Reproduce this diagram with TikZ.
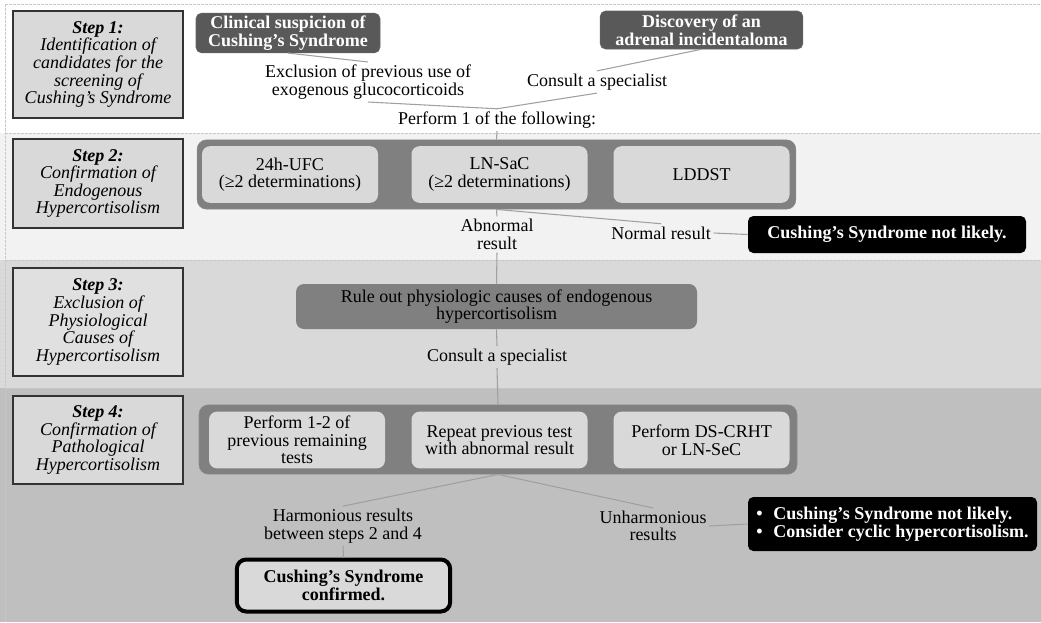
\documentclass[tikz,border=0pt]{standalone}
\usepackage{fontspec}
\setmainfont{Liberation Serif}

\definecolor{bandtwo}{HTML}{F2F2F2}
\definecolor{bandthree}{HTML}{D9D9D9}
\definecolor{bandfour}{HTML}{BFBFBF}
\definecolor{stepfill}{HTML}{D9D9D9}
\definecolor{darkfill}{HTML}{595959}
\definecolor{panelfill}{HTML}{808080}
\definecolor{testfill}{HTML}{D9D9D9}
\definecolor{linkgray}{HTML}{A0A0A0}
\definecolor{dashgray}{HTML}{C8C8C8}

\newcommand{\fsz}{\fontsize{13.5}{13.2}\selectfont}

\tikzset{
  txt/.style={font=\fsz, align=center, inner sep=2pt},
  stepbox/.style={txt, font=\fsz\itshape, draw=black!80,
    line width=1.1pt, fill=#1, minimum width=127.5pt, inner sep=0pt},
  stepbox/.default=stepfill,
  darkbox/.style={txt, font=\fsz\bfseries, text=white,
    fill=darkfill, draw=black!60, rounded corners=4pt, minimum height=28.5pt},
  panel/.style={fill=panelfill, draw=black!45, rounded corners=7pt,
    minimum width=#1, minimum height=52pt},
  testbox/.style={txt, fill=testfill, rounded corners=6pt, minimum width=132pt,
    minimum height=42.5pt},
  endbox/.style={txt, font=\fsz\bfseries, text=white,
    fill=black, rounded corners=4pt},
  link/.style={draw=linkgray, line width=0.8pt},
  bandline/.style={draw=dashgray, line width=0.6pt, dash pattern=on 2pt off 1pt},
}

\begin{document}
\begin{tikzpicture}[x=0.75pt, y=-0.75pt]
  \useasboundingbox (0,0) rectangle (1041,622);

  % bands of the four steps
  \fill[white] (0,0) rectangle (1041,133);
  \fill[bandtwo] (0,133) rectangle (1041,260);
  \fill[bandthree] (0,260) rectangle (1041,388);
  \fill[bandfour] (0,388) rectangle (1041,622);
  \draw[bandline] (5,4) -- (1041,4);
  \draw[bandline] (5,4) -- (5,622);
  \draw[bandline] (5,133) -- (1041,133);
  \draw[bandline] (5,260) -- (1041,260);
  \draw[bandline] (5,388) -- (1041,388);

  % step boxes on the left
  \node[stepbox, minimum height=80pt] (step1) at (98,64.5)
    {{\bfseries Step 1:}\\Identification of\\candidates for the\\screening of\\Cushing's Syndrome};
  \node[stepbox, minimum height=67pt] (step2) at (98,183.5)
    {{\bfseries Step 2:}\\Confirmation of\\Endogenous\\Hypercortisolism};
  \node[stepbox=white!88!black, minimum height=81pt] (step3) at (98,322)
    {{\bfseries Step 3:}\\Exclusion of\\Physiological\\Causes of\\Hypercortisolism};
  \node[stepbox, minimum height=66pt] (step4) at (98,440)
    {{\bfseries Step 4:}\\Confirmation of\\Pathological\\Hypercortisolism};

  % step 1
  \node[darkbox, minimum width=138pt] (clin) at (288,33)
    {Clinical suspicion of\\Cushing's Syndrome};
  \node[darkbox, minimum width=152pt] (disc) at (701.5,30)
    {Discovery of an\\adrenal incidentaloma};
  \node[txt] (excl) at (368,82) {Exclusion of previous use of\\exogenous glucocorticoids};
  \node[txt] (consulta) at (597,82) {Consult a specialist};
  \node[txt] (perform) at (497,120) {Perform 1 of the following:};
  \draw[link] (clin.south) -- (excl.north);
  \draw[link] (disc.south) -- (consulta.north);
  \draw[link] (excl.south) -- (perform.north);
  \draw[link] (consulta.south) -- (perform.north);

  % step 2
  \node[panel=449pt] (testsa) at (496.5,174.5) {};
  \node[testbox] (ufc) at (290,174.5) {24h-UFC\\(≥2 determinations)};
  \node[testbox] (lnsac) at (499.5,174.5) {LN-SaC\\(≥2 determinations)};
  \node[testbox] (lddst) at (701.5,174.5) {LDDST};
  \node[txt] (abnormal) at (497,234.5) {Abnormal\\result};
  \node[txt] (normal) at (661,233) {Normal result};
  \node[endbox, minimum width=208.5pt, minimum height=27.75pt] (unlikelya) at (887,234.5)
    {Cushing's Syndrome not likely.};
  \draw[link] (perform.south) -- (testsa.north);
  \draw[link] (testsa.south) -- (abnormal.north);
  \draw[link] (testsa.south) -- (normal.north);
  \draw[link] (normal.east) -- (unlikelya.west);

  % step 3
  \node[txt, fill=panelfill, rounded corners=6pt, minimum width=300.75pt,
    minimum height=33.75pt] (ruleout) at (496.5,306.5)
    {Rule out physiologic causes of endogenous\\hypercortisolism};
  \node[txt] (consultb) at (497,357) {Consult a specialist};
  \draw[link] (abnormal.south) -- (ruleout.north);
  \draw[link] (ruleout.south) -- (consultb.north);

  % step 4
  \node[panel=448.5pt] (testsb) at (498,439.5) {};
  \node[testbox] (remain) at (297,440) {Perform 1-2 of\\previous remaining\\tests};
  \node[testbox] (repeat) at (499.5,440) {Repeat previous test\\with abnormal result};
  \node[testbox] (crht) at (701.5,440) {Perform DS-CRHT\\or LN-SeC};
  \node[txt] (harmon) at (343,526) {Harmonious results\\between steps 2 and 4};
  \node[txt] (unharmon) at (653,526) {Unharmonious\\results};
  \node[txt, font=\fsz\bfseries, fill=testfill, draw=black,
    line width=3pt, rounded corners=7pt, minimum width=160pt, minimum height=39pt]
    (confirmed) at (343.5,585.5) {Cushing's Syndrome\\confirmed.};
  \node[endbox, align=left, minimum width=216.75pt, minimum height=40.5pt] (unlikelyb)
    at (892.5,524)
    {\textbullet\hspace{8pt}Cushing's Syndrome not likely.\\
     \textbullet\hspace{8pt}Consider cyclic hypercortisolism.};
  \draw[link] (consultb.south) -- (testsb.north);
  \draw[link] (testsb.south) -- (harmon.north);
  \draw[link] (testsb.south) -- (unharmon.north);
  \draw[link] (harmon.south) -- (confirmed.north);
  \draw[link] (unharmon.east) -- (unlikelyb.west);
\end{tikzpicture}
\end{document}
